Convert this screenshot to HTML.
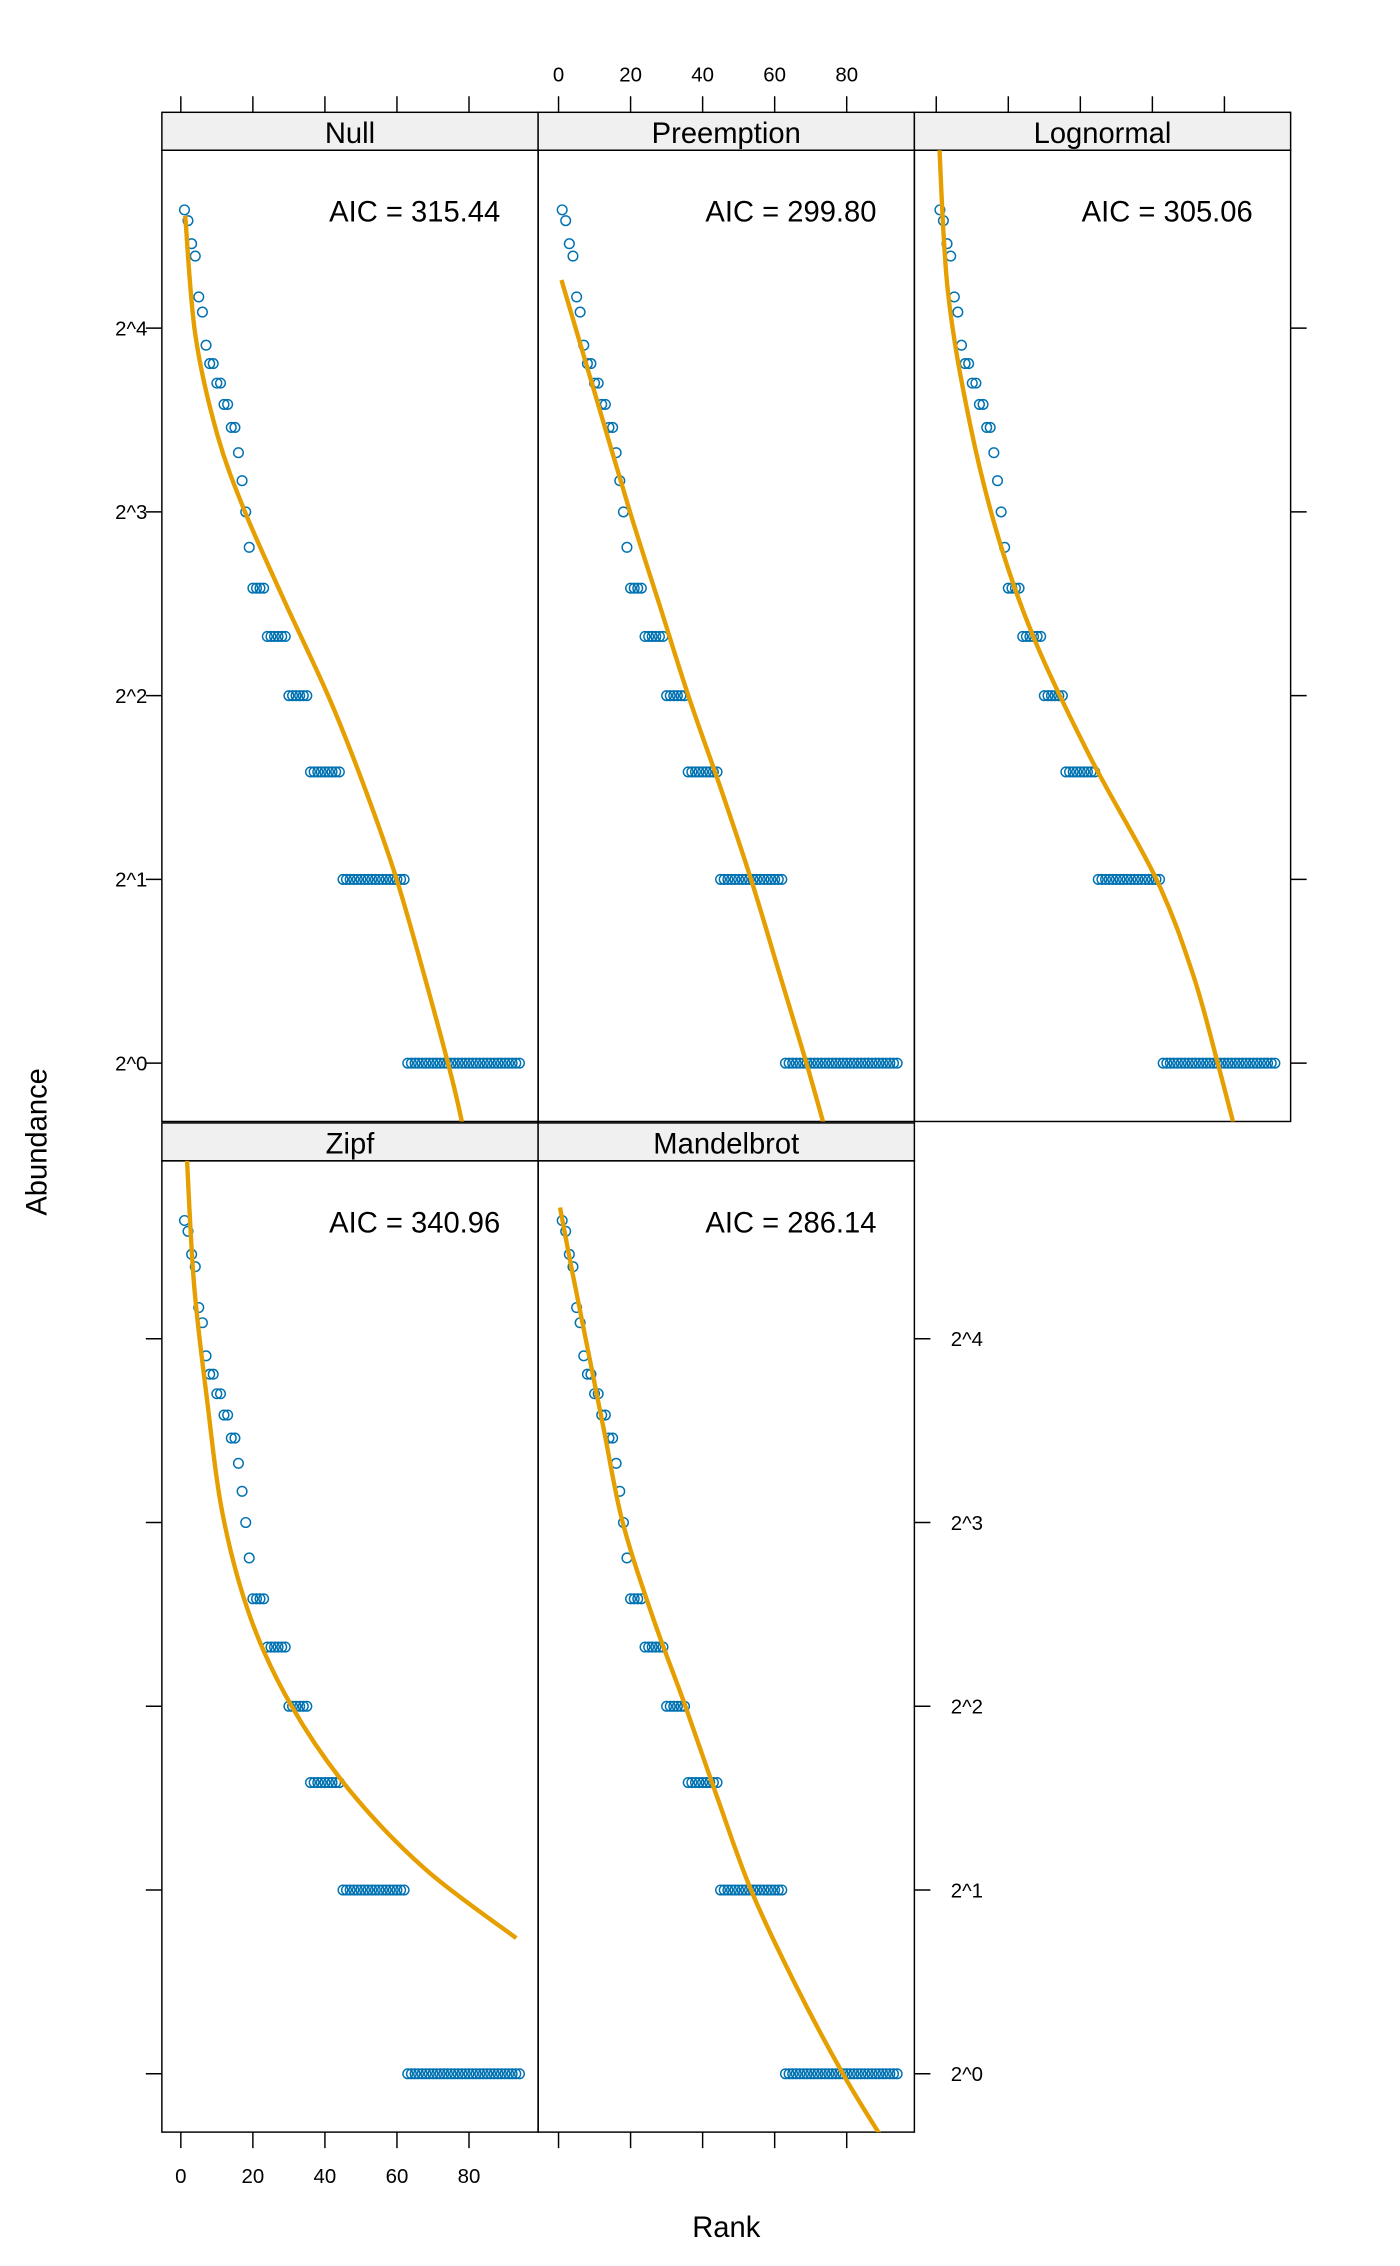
<!DOCTYPE html>
<html><head><meta charset="utf-8"><style>
html,body{margin:0;padding:0;background:#fff;}
svg{display:block;font-family:"Liberation Sans","DejaVu Sans",sans-serif;}
</style></head><body>
<svg id="s" width="1400" height="2266" viewBox="0 0 960 1553.8" xmlns="http://www.w3.org/2000/svg">
<rect width="960" height="1554" fill="#fff"/>
<defs>
<clipPath id="c1"><rect x="111" y="103" width="258" height="666"/></clipPath>
<clipPath id="c2"><rect x="369" y="103" width="258" height="666"/></clipPath>
<clipPath id="c3"><rect x="627" y="103" width="258" height="666"/></clipPath>
<clipPath id="c4"><rect x="111" y="796" width="258" height="666"/></clipPath>
<clipPath id="c5"><rect x="369" y="796" width="258" height="666"/></clipPath>
</defs>
<g id="g"></g>
<text x="32" y="783" font-size="20" text-anchor="middle" transform="rotate(-90 32 783)">Abundance</text>
<text x="498" y="1534" font-size="20" text-anchor="middle">Rank</text>
</svg>
<script>
var g=document.getElementById('g'),h='';
var ab=[25,24,22,21,18,17,15,14,14,13,13,12,12,11,11,10,9,8,7,6,6,6,6,5,5,5,5,5,5,4,4,4,4,4,4,3,3,3,3,3,3,3,3,3];
while(ab.length<62)ab.push(2);while(ab.length<94)ab.push(1);
function X(r,c){return 124+(r)*2.47+c*259;}
function Y(a,row){return 729-Math.log2(a)*126+row*693;}
function cr(p){var d='M'+p[0][0]+','+p[0][1];for(var i=0;i<p.length-1;i++){var p0=p[i>0?i-1:0],p1=p[i],p2=p[i+1],p3=p[i+2<p.length?i+2:i+1];
d+=' C'+(p1[0]+(p2[0]-p0[0])/6).toFixed(1)+','+(p1[1]+(p2[1]-p0[1])/6).toFixed(1)+' '+(p2[0]-(p3[0]-p1[0])/6).toFixed(1)+','+(p2[1]-(p3[1]-p1[1])/6).toFixed(1)+' '+p2[0]+','+p2[1];}return d;}
var panels=[[0,0,'Null','315.44','c1',[[127,148],[134,230],[149,298],[168,351],[195,412],[225,477],[250,540],[272,603],[294,680],[310,740],[318,775]]],
[1,0,'Preemption','299.80','c2',[[385,192],[408,270],[432,351],[452,414],[472,477],[494,540],[515,603],[534,666],[553,729],[566,775]]],
[2,0,'Lognormal','305.06','c3',[[644,98],[650,200],[665,290],[685,370],[710,440],[748,520],[793,603],[818,668],[835,729],[847,775]]],
[0,1,'Zipf','340.96','c4',[[128,790],[133,880],[142,960],[153,1040],[172,1110],[200,1170],[240,1228],[292,1282],[354,1329]]],
[1,1,'Mandelbrot','286.14','c5',[[384,828],[392,870],[402,920],[414,980],[427,1044],[448,1110],[470,1170],[492,1233],[515,1296],[545,1360],[578,1422],[606,1468]]]];
panels.forEach(function(p){
 var c=p[0],r=p[1],x0=111+c*258,y0=77+r*693;
 h+='<rect x="'+x0+'" y="'+y0+'" width="258" height="26" fill="#f0f0f0" stroke="#000" stroke-width="1"/>';
 h+='<text x="'+(x0+129)+'" y="'+(y0+21)+'" font-size="20" text-anchor="middle">'+p[2]+'</text>';
 h+='<rect x="'+x0+'" y="'+(y0+26)+'" width="258" height="666" fill="none" stroke="#000" stroke-width="1"/>';
 h+='<text x="'+(x0+232)+'" y="'+(y0+75)+'" font-size="20" text-anchor="end">AIC = '+p[3]+'</text>';
 ab.forEach(function(a,i){h+='<circle cx="'+X(i+1,c).toFixed(1)+'" cy="'+Y(a,r).toFixed(1)+'" r="3.3" fill="none" stroke="#0072b2" stroke-width="1"/>';});
 h+='<path clip-path="url(#'+p[4]+')" fill="none" stroke="#e69f00" stroke-width="3" d="'+cr(p[5])+'"/>';
});
var tk=[0,20,40,60,80],L=[0,1,2,3,4];
[0,1,2].forEach(function(c){tk.forEach(function(t){var x=X(t,c);h+='<line x1="'+x+'" y1="66" x2="'+x+'" y2="77" stroke="#000"/>';if(c==1)h+='<text x="'+x+'" y="56" font-size="14" text-anchor="middle">'+t+'</text>';});});
[0,1].forEach(function(c){tk.forEach(function(t){var x=X(t,c);h+='<line x1="'+x+'" y1="1462" x2="'+x+'" y2="1473" stroke="#000"/>';if(c==0)h+='<text x="'+x+'" y="1497" font-size="14" text-anchor="middle">'+t+'</text>';});});
L.forEach(function(k){
 var y=729-k*126;
 h+='<line x1="100" y1="'+y+'" x2="111" y2="'+y+'" stroke="#000"/><text x="90" y="'+(y+5)+'" font-size="14" text-anchor="middle">2^'+k+'</text>';
 h+='<line x1="885" y1="'+y+'" x2="896" y2="'+y+'" stroke="#000"/>';
 var y2=y+693;
 h+='<line x1="100" y1="'+y2+'" x2="111" y2="'+y2+'" stroke="#000"/>';
 h+='<line x1="627" y1="'+y2+'" x2="638" y2="'+y2+'" stroke="#000"/><text x="663" y="'+(y2+5)+'" font-size="14" text-anchor="middle">2^'+k+'</text>';
});
g.innerHTML=h;
</script>
</body></html>
